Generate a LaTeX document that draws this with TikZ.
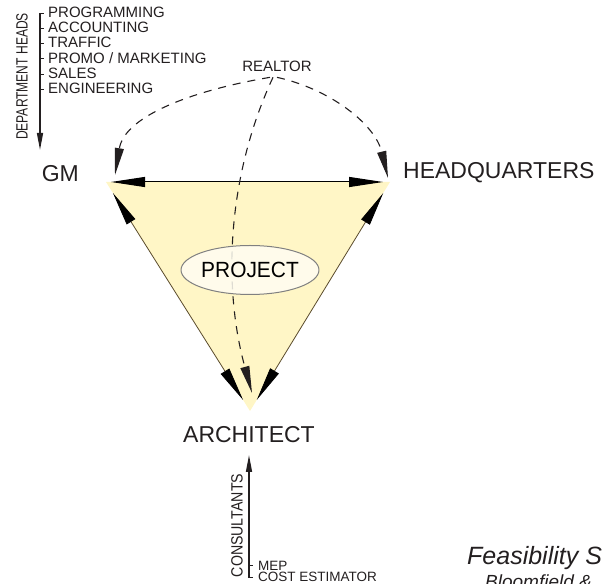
\documentclass[tikz,border=0pt]{standalone}
\usepackage{fontspec}
\setmainfont{Liberation Sans}
\usetikzlibrary{arrows.meta,shapes.geometric}

\definecolor{pad}{HTML}{FFF6C6}
\definecolor{rim}{HTML}{5A4B2C}
\definecolor{ink}{HTML}{231F20}
\definecolor{bubble}{HTML}{FFFDF2}

\begin{document}
\begin{tikzpicture}[%
    x=1pt,y=1pt,
    party/.style={
      text=ink,
      font=\fontsize{23}{27}\selectfont,
      inner sep=0pt
    },
    item/.style={
      text=ink,
      font=\fontsize{15}{15}\selectfont,
      anchor=base west,
      inner sep=0pt
    },
    small/.style={
      text=ink,
      font=\fontsize{13.5}{13.5}\selectfont,
      anchor=base west,
      inner sep=0pt
    },
    group/.style={
      text=ink,
      font=\fontsize{16.3}{17}\selectfont,
      rotate=90,
      inner sep=0pt
    },
    side/.style={
      draw=rim,
      line width=0.8pt,
      {Triangle[length=34pt,width=10pt,color=black]}-{Triangle[length=34pt,width=10pt,color=black]},
      shorten <=13pt,
      shorten >=13pt
    },
    top/.style={
      draw=black,
      line width=1pt,
      {Triangle[length=34pt,width=10pt]}-{Triangle[length=34pt,width=10pt]},
      shorten <=5pt,
      shorten >=7pt
    },
    hint/.style={
      draw=ink,
      line width=1.1pt,
      dash pattern=on 8pt off 7pt,
      -{Triangle[length=27pt,width=9pt]}
    },
    feed/.style={
      draw=ink,
      line width=1.5pt,
      -{Triangle[length=17pt,width=6pt]}
    },
    tick/.style={
      draw=ink,
      line width=0.9pt
    },
    cloud/.style={
      draw=gray,
      line width=1pt,
      ellipse,
      fill=bubble,
      fill opacity=0.85,
      text opacity=1,
      minimum width=114pt,
      minimum height=49pt,
      inner sep=0pt
    }
  ]
    \useasboundingbox (0,0) rectangle (603,584);

    % corners of the triangle
    \coordinate (gm) at (106,402);
    \coordinate (hq) at (390,402);
    \coordinate (arch) at (250,173);

    \fill[pad] (gm) -- (hq) -- (arch) -- cycle;
    \draw[side] (arch) -- (gm);
    \draw[side] (arch) -- (hq);
    \draw[top] (gm) -- (hq);

    \draw (79,402) node[party,anchor=base east] (GM) {GM};
    \draw (403,405) node[party,anchor=base west] (HQ) {HEADQUARTERS};
    \draw (249,141) node[party,anchor=base] (A) {ARCHITECT};
    \draw (277,512) node[text=ink,font=\fontsize{15}{15}\selectfont,anchor=base,inner sep=0pt] (R) {REALTOR};

    % realtor lines
    \draw[hint] ([xshift=-7pt,yshift=-5pt]R.south) .. controls (200,495) and (125,470) .. ([shift={(9,7)}]gm);
    \draw[hint] ([xshift=0pt,yshift=-5pt]R.south) .. controls (330,495) and (375,460) .. ([shift={(-2,4)}]hq);
    \draw[hint] ([xshift=-4pt,yshift=-5pt]R.south) .. controls (228,410) and (222,300) .. ([shift={(2,18)}]arch);

    \draw (250,314) node[cloud] (P) {\fontsize{22}{24}\selectfont\scalebox{0.95}[1]{PROJECT}};

    % department heads
    \coordinate (dtop) at (40,571);
    \coordinate (dend) at (40,434);
    \draw[feed] (dtop) -- (dend);
    \draw (22,507.5) node[group] (D) {\scalebox{0.74}[1]{DEPARTMENT HEADS}};
    \draw (48,566) node[item] (d1) {PROGRAMMING};
    \draw (48,551) node[item] (d2) {ACCOUNTING};
    \draw (48,536) node[item] (d3) {TRAFFIC};
    \draw (48,520.5) node[item] (d4) {PROMO / MARKETING};
    \draw (48,505) node[item] (d5) {SALES};
    \draw (48,490) node[item] (d6) {ENGINEERING};
    \draw[tick] (40,571) -- (44,571);
    \draw[tick] (40,556) -- (44,556);
    \draw[tick] (40,541) -- (44,541);
    \draw[tick] (40,525.5) -- (44,525.5);
    \draw[tick] (40,510) -- (44,510);
    \draw[tick] (40,495) -- (44,495);

    % consultants
    \coordinate (cbot) at (249,6);
    \coordinate (ctop) at (249,129);
    \draw[feed] (cbot) -- (ctop);
    \draw (237,58.5) node[group] (C) {\scalebox{0.87}[1]{CONSULTANTS}};
    \draw (258,13.5) node[small] (c1) {MEP};
    \draw (258,2) node[small] (c2) {COST ESTIMATOR};
    \draw[tick] (249,19) -- (253,19);
    \draw[tick] (249,7) -- (253,7);

    \draw (467,19) node[text=ink,font=\fontsize{25}{27}\selectfont\itshape,anchor=base west,inner sep=0pt] (T) {Feasibility S};
    \draw (485,-5) node[text=ink,font=\fontsize{19}{21}\selectfont\itshape,anchor=base west,inner sep=0pt] (B) {Bloomfield \&};
  \end{tikzpicture}
\end{document}
